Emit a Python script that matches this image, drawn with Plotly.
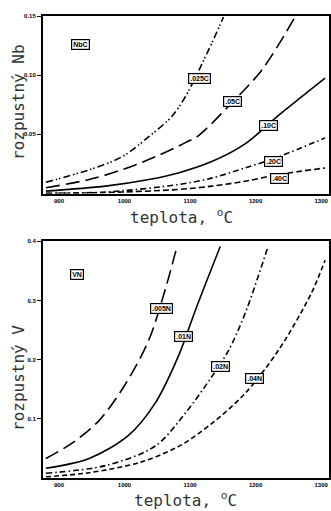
import plotly.graph_objects as go

# ---- data: NbC (top panel), temperature in °C, soluble Nb ----
nb_025C_t = [880, 946, 996, 1037, 1072, 1093, 1128, 1151]
nb_025C_v = [0.0095, 0.020, 0.031, 0.048, 0.065, 0.082, 0.121, 0.149]
nb_05C_t = [880, 946, 996, 1047, 1093, 1113, 1159, 1209, 1260]
nb_05C_v = [0.0048, 0.0118, 0.020, 0.031, 0.043, 0.049, 0.074, 0.104, 0.149]
nb_10C_t = [880, 971, 1037, 1082, 1133, 1184, 1235, 1306]
nb_10C_v = [0.002, 0.0062, 0.0118, 0.0174, 0.027, 0.042, 0.066, 0.0975]
nb_20C_t = [880, 971, 1082, 1133, 1184, 1235, 1306]
nb_20C_v = [0.0002, 0.0012, 0.0076, 0.013, 0.0216, 0.031, 0.047]
nb_40C_t = [880, 971, 1082, 1133, 1184, 1235, 1306]
nb_40C_v = [0.0, 0.0008, 0.0034, 0.0062, 0.0104, 0.016, 0.0216]

# ---- data: VN (bottom panel), soluble V ----
v_005N_t = [880, 920, 961, 1001, 1037, 1062, 1080]
v_005N_v = [0.033, 0.059, 0.097, 0.158, 0.233, 0.318, 0.391]
v_01N_t = [880, 946, 1006, 1047, 1083, 1108, 1146]
v_01N_v = [0.0164, 0.033, 0.072, 0.127, 0.208, 0.283, 0.391]
v_02N_t = [880, 971, 1047, 1093, 1133, 1159, 1184, 1219]
v_02N_v = [0.008, 0.021, 0.054, 0.110, 0.171, 0.216, 0.278, 0.391]
v_04N_t = [880, 946, 1022, 1082, 1133, 1184, 1235, 1285, 1306]
v_04N_v = [0.002, 0.009, 0.026, 0.053, 0.092, 0.143, 0.216, 0.312, 0.368]

nb_labels = ["NbC", ".025C", ".05C", ".10C", ".20C", ".40C"]
nb_label_x = [933, 1115, 1164, 1220, 1227, 1237]
nb_label_y = [0.1255, 0.0975, 0.0778, 0.0573, 0.0272, 0.0126]
v_labels = ["VN", ".005N", ".01N", ".02N", ".04N"]
v_label_x = [928, 1057, 1090, 1146, 1199]
v_label_y = [0.343, 0.287, 0.239, 0.188, 0.168]

x_ticks = [900, 1000, 1100, 1200, 1300]
nb_ticks = [0.05, 0.10, 0.15]
nb_ticktext = ["0.05", "0.10", "0.15"]
v_ticks = [0.1, 0.2, 0.3, 0.4]
v_ticktext = ["0.1", "0.2", "0.3", "0.4"]

DDOT = "7px,3px,1.5px,2px,1.5px,3px"
DDASH = "6px,3px,1.5px,3px"

W, H = 331, 511
ML, MR = 43, 2

fig = go.Figure()

def add(x, y, dash, xa, ya, w=1.6):
    fig.add_trace(go.Scatter(x=x, y=y, mode="lines",
                             line=dict(color="black", width=w, dash=dash, shape="spline", smoothing=0.9),
                             xaxis=xa, yaxis=ya, showlegend=False, hoverinfo="skip"))

add(nb_025C_t, nb_025C_v, DDOT, "x", "y")
add(nb_05C_t, nb_05C_v, "14px,6px", "x", "y")
add(nb_10C_t, nb_10C_v, "solid", "x", "y")
add(nb_20C_t, nb_20C_v, DDASH, "x", "y")
add(nb_40C_t, nb_40C_v, "6px,3px", "x", "y")

add(v_005N_t, v_005N_v, "14px,6px", "x2", "y2")
add(v_01N_t, v_01N_v, "solid", "x2", "y2")
add(v_02N_t, v_02N_v, DDASH, "x2", "y2")
add(v_04N_t, v_04N_v, "5px,3px", "x2", "y2")

ann = []
def lab(texts, xs, ys, xr, yr):
    for t, x, y in zip(texts, xs, ys):
        ann.append(dict(text=t, x=x, y=y, xref=xr, yref=yr, showarrow=False,
                        font=dict(family="Liberation Sans", size=7, color="black", weight="bold"),
                        bgcolor="white", bordercolor="black", borderwidth=1.2, borderpad=1))
lab(nb_labels, nb_label_x, nb_label_y, "x", "y")
lab(v_labels, v_label_x, v_label_y, "x2", "y2")

title_font = dict(family="DejaVu Sans Mono", size=16, color="#333")

def px_x(px):
    return (px - ML) / (W - ML - MR)

def px_y(py):
    return 1 - py / H

# axis titles as paper annotations
for txt, cx, cy, ang in [("teplota, <sup>o</sup>C", 181, 217, 0),
                         ("teplota, <sup>o</sup>C", 185, 499, 0),
                         ("rozpustný Nb", 18, 102, -90),
                         ("rozpustný V", 18, 378, -90)]:
    ann.append(dict(text=txt, x=px_x(cx), y=px_y(cy), xref="paper", yref="paper", showarrow=False,
                    textangle=ang, font=title_font, xanchor="center", yanchor="middle"))

tick_font = dict(family="Liberation Sans", size=6, color="black", weight="bold")
xcommon = dict(range=[875.6, 1312], tickvals=x_ticks, ticks="", showline=True, linecolor="black", linewidth=2,
               mirror=True, showgrid=False, zeroline=False, tickfont=tick_font, automargin=False)
ycommon = dict(ticks="outside", ticklen=4, tickwidth=1, tickcolor="black", showline=True, linecolor="black",
               linewidth=2, mirror=True, showgrid=False, zeroline=False, tickfont=tick_font, automargin=False)

fig.update_layout(
    width=W, height=H, margin=dict(l=ML, r=MR, t=0, b=0),
    paper_bgcolor="white", plot_bgcolor="white",
    xaxis=dict(domain=[0, 1], anchor="y", **xcommon),
    yaxis=dict(domain=[px_y(193.5), px_y(16)], anchor="x", range=[0, 0.15], tickvals=nb_ticks,
               ticktext=nb_ticktext, **ycommon),
    xaxis2=dict(domain=[0, 1], anchor="y2", **xcommon),
    yaxis2=dict(domain=[px_y(478), px_y(241.2)], anchor="x2", range=[0, 0.4], tickvals=v_ticks,
                ticktext=v_ticktext, **ycommon),
    annotations=ann,
)

fig.write_html("out.html", config={"displayModeBar": False},
               post_script="document.body.style.margin='0';document.body.style.padding='0';"
                           "document.body.style.overflow='hidden';")
